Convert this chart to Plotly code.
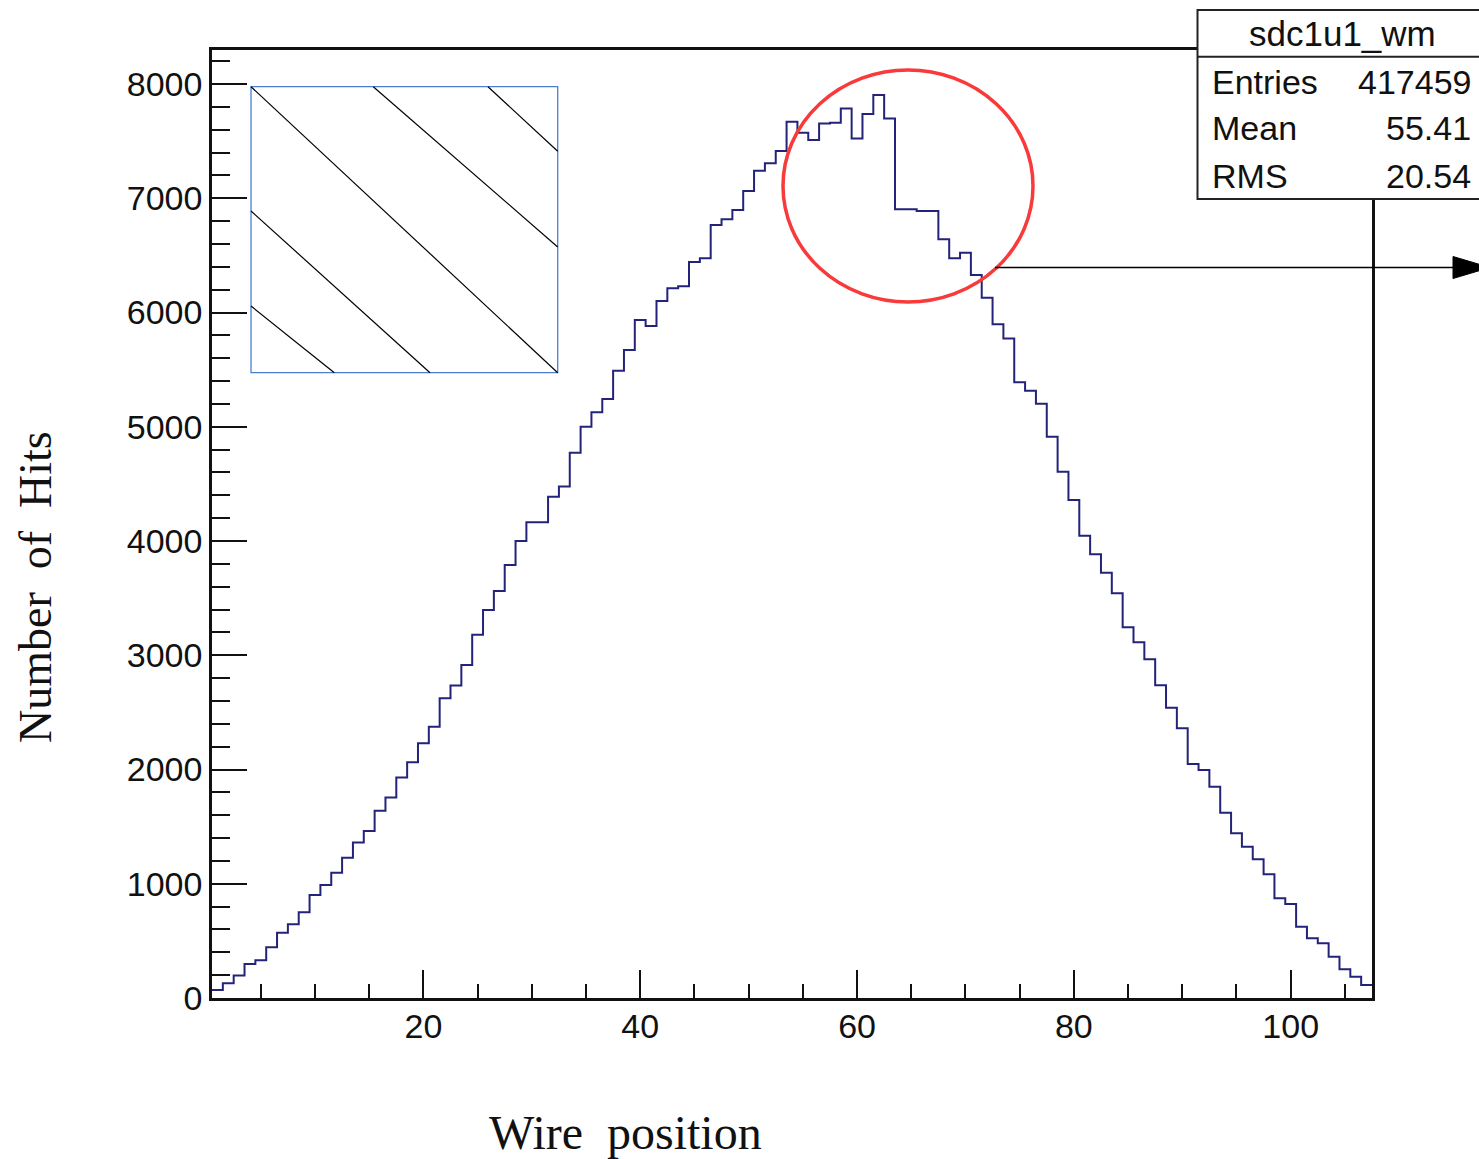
import plotly.graph_objects as go

# ---- data ----
wire = list(range(1, 108))
hits = [70, 130, 198, 297, 330, 445, 572, 645, 750, 902,
        989, 1097, 1228, 1360, 1462, 1640, 1754, 1929, 2063, 2229,
        2375, 2623, 2735, 2915, 3180, 3396, 3562, 3790, 4000, 4164,
        4164, 4388, 4476, 4773, 5001, 5127, 5243, 5491, 5672, 5935,
        5882, 6100, 6212, 6230, 6442, 6475, 6766, 6816, 6897, 7063,
        7241, 7306, 7414, 7670, 7574, 7510, 7655, 7660, 7786, 7524,
        7737, 7903, 7697, 6904, 6904, 6889, 6889, 6641, 6475, 6524,
        6329, 6130, 5898, 5772, 5390, 5315, 5202, 4913, 4607, 4359,
        4047, 3883, 3722, 3542, 3245, 3113, 2966, 2737, 2541, 2361,
        2048, 1996, 1850, 1622, 1441, 1324, 1214, 1083, 873, 823,
        624, 523, 479, 362, 251, 187, 114]
x_ticks = [20, 40, 60, 80, 100]
y_ticks = [0, 1000, 2000, 3000, 4000, 5000, 6000, 7000, 8000]
hist_name = "sdc1u1_wm"
stats_labels = ["Entries", "Mean", "RMS"]
stats_values = ["417459", "55.41", "20.54"]
x_title = "Wire position"
y_title = "Number of Hits"

# bin edges for the step outline
edges = [w - 0.5 for w in wire] + [wire[-1] + 0.5]
step_y = hits + [hits[-1]]

W, H = 1479, 1159
L, R, T, B = 212, 1372, 50, 998


def px(x):
    return (x - L) / (R - L)


def py(y):
    return (B - y) / (B - T)


SANS = "Liberation Sans, Arial, sans-serif"
SERIF = "Liberation Serif, Times New Roman, serif"

fig = go.Figure()
fig.add_trace(go.Scatter(
    x=edges, y=step_y, mode="lines", line_shape="hv",
    line=dict(color="#23237a", width=2), showlegend=False, hoverinfo="skip"))

fig.update_layout(
    width=W, height=H,
    margin=dict(l=L, r=W - R, t=T, b=H - B),
    paper_bgcolor="white", plot_bgcolor="white",
    showlegend=False,
)
fig.update_xaxes(
    range=[0.5, 107.5], tickvals=x_ticks, ticktext=[str(v) for v in x_ticks],
    showgrid=False, zeroline=False, showline=True, linecolor="#111", linewidth=2.5,
    mirror=True, ticks="inside", ticklen=28, tickwidth=2, tickcolor="#111",
    minor=dict(dtick=5, tick0=0, ticks="inside", ticklen=14, tickwidth=2, tickcolor="#111"),
    tickfont=dict(family=SANS, size=34, color="#111"),
    ticklabelstandoff=-4,
)
fig.update_yaxes(
    range=[0, 8000 * (B - T) / 914], tickvals=y_ticks, ticktext=[str(v) for v in y_ticks],
    showgrid=False, zeroline=False, showline=True, linecolor="#111", linewidth=2.5,
    mirror=True, ticks="inside", ticklen=35, tickwidth=2, tickcolor="#111",
    minor=dict(dtick=200, tick0=0, ticks="inside", ticklen=18, tickwidth=2, tickcolor="#111"),
    tickfont=dict(family=SANS, size=34, color="#111"),
)

shapes = []
# inset wire diagram
shapes.append(dict(type="rect", xref="paper", yref="paper",
                   x0=px(251), x1=px(557.7), y0=py(372.7), y1=py(86.7),
                   line=dict(color="#4a7fd0", width=1.3), layer="above"))
for (a, b, c, d) in [(251, 86.7, 557.7, 372.7), (373.3, 86.7, 557.7, 247),
                     (488, 86.7, 557.7, 151.3), (251, 211, 430, 372.7),
                     (251, 306, 334.3, 372.7)]:
    shapes.append(dict(type="line", xref="paper", yref="paper",
                       x0=px(a), y0=py(b), x1=px(c), y1=py(d),
                       line=dict(color="black", width=1.2), layer="above"))
# red circle
shapes.append(dict(type="circle", xref="paper", yref="paper",
                   x0=px(783), x1=px(1033), y0=py(302), y1=py(70),
                   line=dict(color="#f83a3a", width=3.5), layer="above"))
# arrow
shapes.append(dict(type="line", xref="paper", yref="paper",
                   x0=px(995), x1=px(1458), y0=py(267.5), y1=py(267.5),
                   line=dict(color="black", width=1.5), layer="above"))
shapes.append(dict(type="path", xref="paper", yref="paper",
                   path=f"M {px(1453)} {py(256.5)} L {px(1490)} {py(267.5)} L {px(1453)} {py(278.5)} Z",
                   fillcolor="black", line=dict(color="black", width=1), layer="above"))
# stats box
shapes.append(dict(type="rect", xref="paper", yref="paper",
                   x0=px(1197.5), x1=px(1500), y0=py(199), y1=py(10),
                   fillcolor="white", line=dict(color="#222", width=2), layer="above"))
shapes.append(dict(type="line", xref="paper", yref="paper",
                   x0=px(1197.5), x1=px(1500), y0=py(56.7), y1=py(56.7),
                   line=dict(color="#222", width=2), layer="above"))
fig.update_layout(shapes=shapes)

ann = []
ann.append(dict(text=hist_name, x=px(1342), y=py(33), xref="paper", yref="paper",
                showarrow=False, xanchor="center", yanchor="middle",
                font=dict(family=SANS, size=35, color="#111")))
for lab, val, yy in zip(stats_labels, stats_values, [82, 128, 176]):
    ann.append(dict(text=lab, x=px(1210), y=py(yy), xref="paper", yref="paper",
                    showarrow=False, xanchor="left", yanchor="middle",
                    font=dict(family=SANS, size=34, color="#111")))
    ann.append(dict(text=val, x=px(1473), y=py(yy), xref="paper", yref="paper",
                    showarrow=False, xanchor="right", yanchor="middle",
                    font=dict(family=SANS, size=34, color="#111")))
ann.append(dict(text=x_title.replace(" ", "  "), x=px(625), y=py(1132), xref="paper", yref="paper",
                showarrow=False, xanchor="center", yanchor="middle",
                font=dict(family=SERIF, size=48, color="#111")))
ann.append(dict(text=y_title.replace(" ", "  "), x=px(35), y=py(587), xref="paper", yref="paper",
                showarrow=False, xanchor="center", yanchor="middle", textangle=-90,
                font=dict(family=SERIF, size=46, color="#111")))
fig.update_layout(annotations=ann)

fig.write_html("out.html")
